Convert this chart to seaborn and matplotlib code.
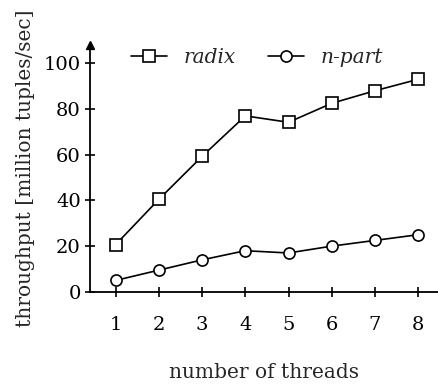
import pandas as pd
import numpy as np
import matplotlib.pyplot as plt
import seaborn as sns

threads = [1, 2, 3, 4, 5, 6, 7, 8]
radix = [20.7, 40.5, 59.3, 77, 74.2, 82.5, 88, 93]
npart = [5, 9.5, 14, 18, 17, 20, 22.5, 25]

data = pd.DataFrame({
    'threads': threads * 2,
    'throughput': radix + npart,
    'algo': ['radix'] * len(threads) + ['n-part'] * len(threads),
})

sns.set_style('ticks')
plt.rcParams['font.family'] = ['DejaVu Serif']

fig = plt.figure(figsize=(4.38, 3.85), dpi=100)
ax = fig.add_axes([0.205, 0.242, 0.795, 0.641])

sns.lineplot(data=data, x='threads', y='throughput', style='algo',
             markers={'radix': 's', 'n-part': 'o'}, dashes=False,
             color='black', markersize=8, markerfacecolor='white',
             markeredgecolor='black', markeredgewidth=1.2, linewidth=1.2,
             ax=ax)

ax.set_xlim(0.4, 8.46)
ax.set_ylim(0, 108)
ax.set_xticks(threads)
ax.set_yticks([0, 20, 40, 60, 80, 100])
ax.tick_params(direction='inout', length=7, width=1.2, labelsize=14, colors='black')
ax.tick_params(axis='x', pad=14)
ax.tick_params(axis='y', pad=3)
for s in ['top', 'right']:
    ax.spines[s].set_visible(False)
for s in ['left', 'bottom']:
    ax.spines[s].set_linewidth(1.3)
    ax.spines[s].set_color('black')
# arrow on top of y axis
ax.plot(0.4, 1, marker='^', markersize=6, color='black', transform=ax.get_xaxis_transform(), clip_on=False)

ax.set_xlabel('number of threads', fontsize=14.5, labelpad=21)
ax.set_ylabel('throughput [million tuples/sec]', fontsize=14.5, labelpad=6)

leg = ax.legend(ncol=2, frameon=False, loc='upper center', bbox_to_anchor=(0.48, 1.06),
                prop={'style': 'italic', 'size': 14.5}, handlelength=1.8, columnspacing=1.6)

fig.savefig('out.png', dpi=100)
